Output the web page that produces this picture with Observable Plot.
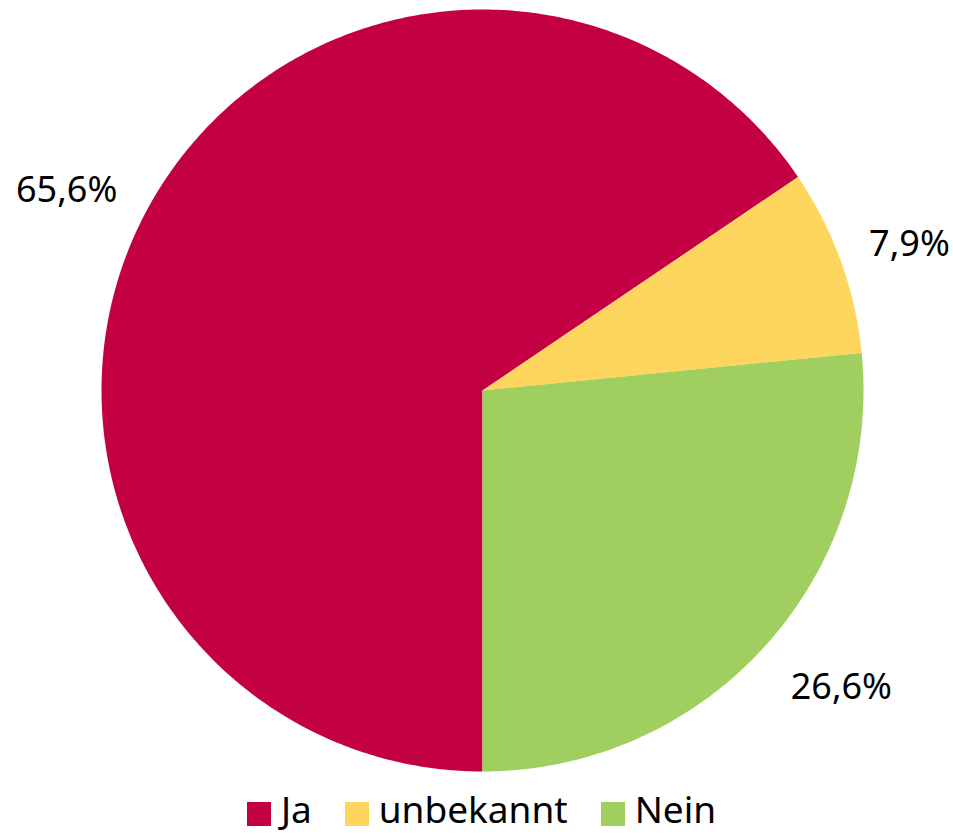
<!DOCTYPE html>
<html>
<head>
<meta charset="utf-8">
<script src="https://cdn.jsdelivr.net/npm/d3@7"></script>
<script src="https://cdn.jsdelivr.net/npm/@observablehq/plot@0.6"></script>
<style>
  html, body { margin: 0; padding: 0; background: #fff; }
  body { width: 953px; height: 836px; overflow: hidden; font-family: "Noto Sans", sans-serif; position: relative; }
  #legend { position: absolute; left: 10px; right: 0; top: 792px; display: flex; justify-content: center; align-items: center; gap: 33px; height: 34px; line-height: 34px; font-size: 37px; color: #000; }
  .item { display: flex; align-items: center; gap: 10px; }
  .sw { width: 24px; height: 24px; display: inline-block; margin-top: 10px; }
</style>
</head>
<body>
<div id="chart"></div>
<div id="legend"></div>
<script>
const categories = ["Ja", "unbekannt", "Nein"];
const values = [65.6, 7.9, 26.6];
const labels = ["65,6%", "7,9%", "26,6%"];
const colors = ["#c40045", "#fed65e", "#a1cf5f"];

const pie = d3.pie().sort(null).startAngle(Math.PI).endAngle(3 * Math.PI);
const arcs = pie(values);

// polygon points for each slice (unit circle, angle clockwise from 12 o'clock)
const pts = [];
arcs.forEach((a, i) => {
  const n = Math.max(2, Math.ceil((a.endAngle - a.startAngle) / 0.01));
  pts.push({cat: categories[i], x: 0, y: 0});
  for (let k = 0; k <= n; k++) {
    const t = a.startAngle + (a.endAngle - a.startAngle) * k / n;
    pts.push({cat: categories[i], x: Math.sin(t), y: Math.cos(t)});
  }
  pts.push({cat: categories[i], x: 0, y: 0});
});

const labelData = arcs.map((a, i) => {
  const m = (a.startAngle + a.endAngle) / 2;
  const r = 1.2;
  return {label: labels[i], x: Math.sin(m) * r, y: Math.cos(m) * r};
});
const nudges = [[-12, 14], [-3, 9], [20, -10]];

const plot = Plot.plot({
  width: 953,
  height: 780,
  marginLeft: 101,
  marginRight: 90,
  marginTop: 9,
  marginBottom: 9,
  x: {domain: [-1, 1], axis: null},
  y: {domain: [-1, 1], axis: null},
  color: {domain: categories, range: colors},
  style: {fontFamily: "Noto Sans, sans-serif", overflow: "visible"},
  marks: [
    Plot.line(pts, {x: "x", y: "y", z: "cat", fill: "cat", stroke: null, curve: "linear"}),
    ...labelData.map((d, i) => Plot.text([d], {x: "x", y: "y", text: "label", fontSize: 36, fill: "#000", dx: nudges[i][0], dy: nudges[i][1]}))
  ]
});
document.getElementById("chart").appendChild(plot);

const legend = document.getElementById("legend");
categories.forEach((c, i) => {
  const item = document.createElement("div");
  item.className = "item";
  const sw = document.createElement("span");
  sw.className = "sw";
  sw.style.background = colors[i];
  const tx = document.createElement("span");
  tx.textContent = c;
  item.appendChild(sw);
  item.appendChild(tx);
  legend.appendChild(item);
});
</script>
</body>
</html>
